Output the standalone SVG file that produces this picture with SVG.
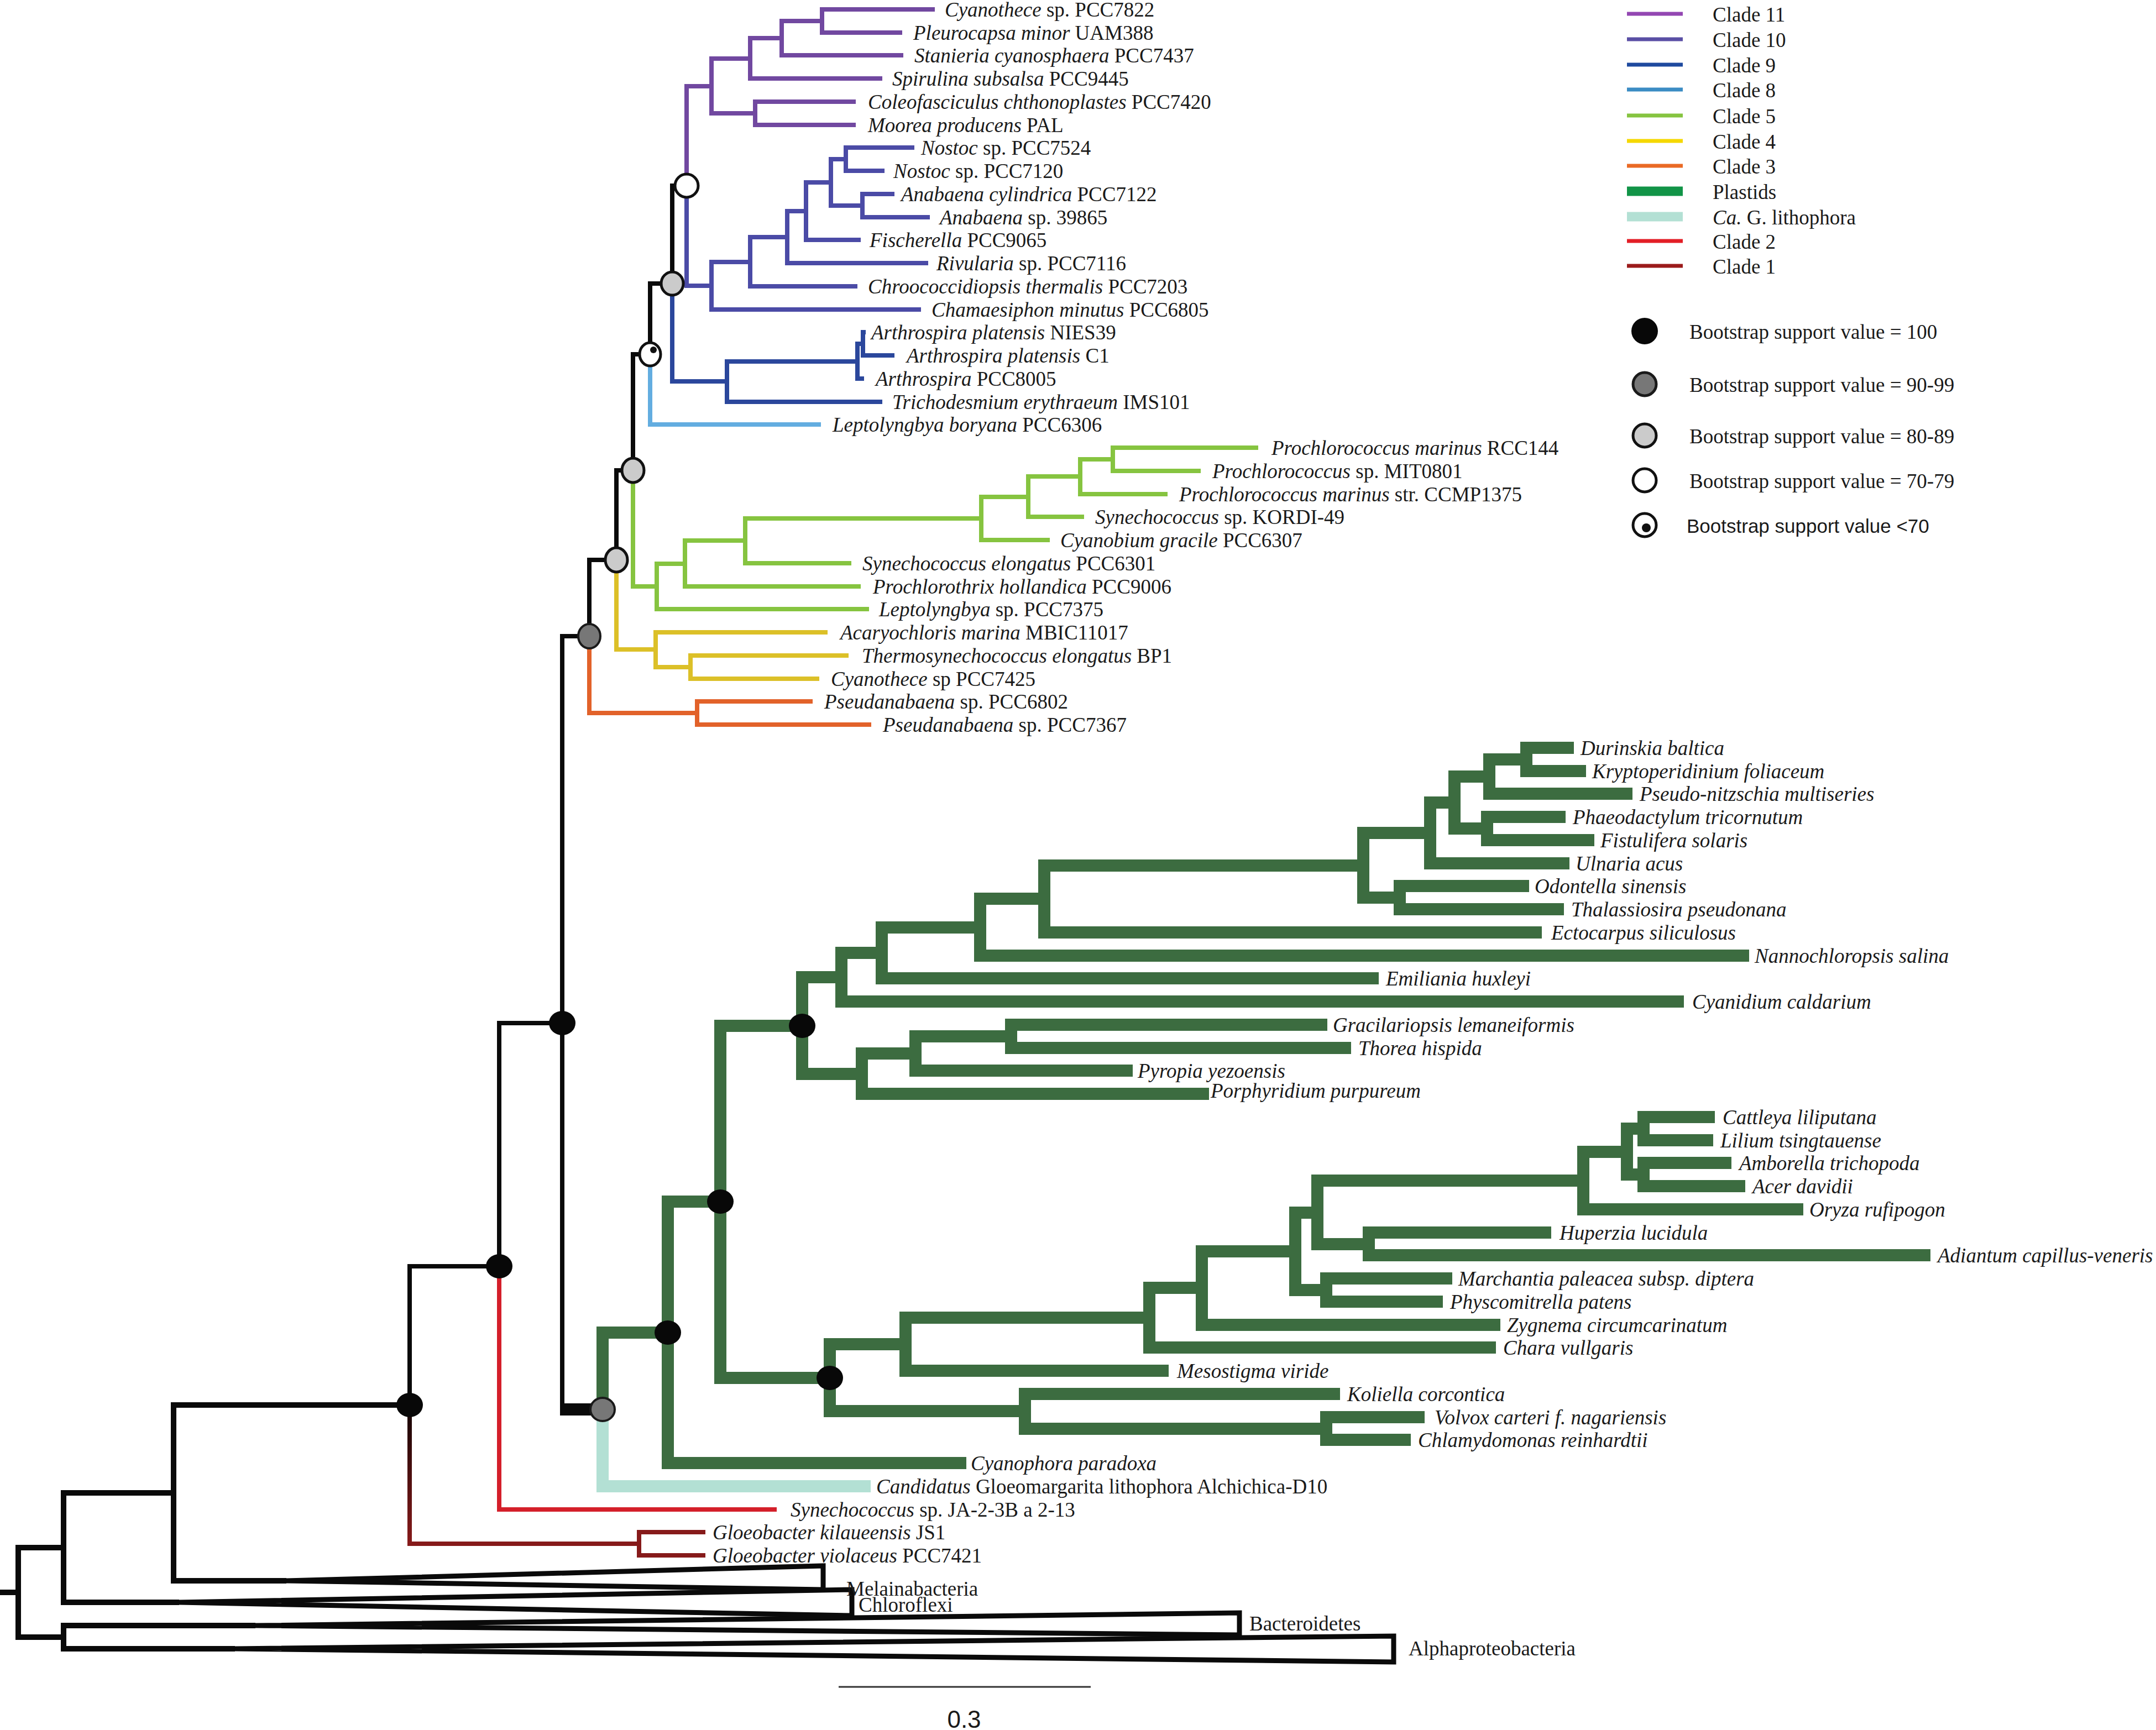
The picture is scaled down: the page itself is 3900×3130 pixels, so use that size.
<svg xmlns="http://www.w3.org/2000/svg" width="3900" height="3130" viewBox="0 0 3900 3130">
<defs>
<style>
text{font-family:"Liberation Serif","Times New Roman",serif;font-size:37px;fill:#1a1a1a}
.i{font-style:italic}
.sans{font-family:"Liberation Sans",Arial,sans-serif}
path{fill:none;stroke-linejoin:miter;stroke-linecap:butt}
.bk{stroke:#0a0a0a;stroke-width:8}
.bk10{stroke:#0a0a0a;stroke-width:10}
.c11{stroke:#7148a0;stroke-width:8}
.c10{stroke:#4b4ba6;stroke-width:8}
.c9{stroke:#2b479c;stroke-width:8}
.c8{stroke:#63ade0;stroke-width:8}
.c5{stroke:#86c440;stroke-width:8}
.c4{stroke:#dcc028;stroke-width:8}
.c3{stroke:#e2622a;stroke-width:8}
.c2{stroke:#d41f2a;stroke-width:8}
.c1{stroke:#861a1a;stroke-width:8}
.pl{stroke:#3c6c40;stroke-width:22}
.ca{stroke:#b3e0d4;stroke-width:22}
.tri{fill:none;stroke:#0a0a0a;stroke-width:9}
.n100{fill:#080808}
.n90{fill:#777777;stroke:#1a1a1a;stroke-width:4}
.n80{fill:#cbcbcb;stroke:#111111;stroke-width:5}
.n70{fill:#ffffff;stroke:#111111;stroke-width:5}
.lgl{stroke-width:7}
</style>
<linearGradient id="gC1" gradientUnits="userSpaceOnUse" x1="0" y1="2560" x2="0" y2="2790">
<stop offset="0" stop-color="#1a0606"/><stop offset="1" stop-color="#861a1a"/>
</linearGradient>
</defs>
<rect width="3900" height="3130" fill="#ffffff"/>

<g id="connectors">
<g id="clade11">
<path class="c11" d="M1242 336V156H1287"/>
<path class="c11" d="M1287 156V106H1357"/>
<path class="c11" d="M1287 156V205H1366"/>
<path class="c11" d="M1357 106V69H1414"/>
<path class="c11" d="M1357 106V142H1596"/>
<path class="c11" d="M1414 69V38H1487"/>
<path class="c11" d="M1414 69V100H1634"/>
<path class="c11" d="M1487 38V17H1691"/>
<path class="c11" d="M1487 38V59H1632"/>
<path class="c11" d="M1366 205V184H1548"/>
<path class="c11" d="M1366 205V226H1548"/>
</g>
<g id="clade10">
<path class="c10" d="M1242 336V517H1287"/>
<path class="c10" d="M1287 517V474H1357"/>
<path class="c10" d="M1287 517V560H1666"/>
<path class="c10" d="M1357 474V429H1424"/>
<path class="c10" d="M1357 474V518H1551"/>
<path class="c10" d="M1424 429V382H1458"/>
<path class="c10" d="M1424 429V476H1679"/>
<path class="c10" d="M1458 382V330H1503"/>
<path class="c10" d="M1458 382V434H1557"/>
<path class="c10" d="M1503 330V288H1530"/>
<path class="c10" d="M1503 330V372H1560"/>
<path class="c10" d="M1530 288V267H1654"/>
<path class="c10" d="M1530 288V309H1600"/>
<path class="c10" d="M1560 372V351H1618"/>
<path class="c10" d="M1560 372V393H1682"/>
</g>
<g id="clade9">
<path class="c9" d="M1216 513V690H1315"/>
<path class="c9" d="M1315 690V654H1551"/>
<path class="c9" d="M1315 690V727H1596"/>
<path class="c9" d="M1551 654V622H1561"/>
<path class="c9" d="M1551 654V685H1563"/>
<path class="c9" d="M1561 622V601H1566"/>
<path class="c9" d="M1561 622V643H1618"/>
</g>
<g id="clade8">
<path class="c8" d="M1176 641V768H1485"/>
</g>
<g id="clade5">
<path class="c5" d="M1145 851V1061H1188"/>
<path class="c5" d="M1188 1061V1020H1239"/>
<path class="c5" d="M1188 1061V1102H1572"/>
<path class="c5" d="M1239 1020V978H1348"/>
<path class="c5" d="M1239 1020V1061H1557"/>
<path class="c5" d="M1348 978V938H1775"/>
<path class="c5" d="M1348 978V1019H1540"/>
<path class="c5" d="M1775 938V899H1860"/>
<path class="c5" d="M1775 938V977H1899"/>
<path class="c5" d="M1860 899V862H1954"/>
<path class="c5" d="M1860 899V935H1961"/>
<path class="c5" d="M1954 862V831H2013"/>
<path class="c5" d="M1954 862V894H2112"/>
<path class="c5" d="M2013 831V810H2276"/>
<path class="c5" d="M2013 831V852H2172"/>
</g>
<g id="clade4">
<path class="c4" d="M1115 1013V1175H1186"/>
<path class="c4" d="M1186 1175V1144H1497"/>
<path class="c4" d="M1186 1175V1207H1249"/>
<path class="c4" d="M1249 1207V1186H1535"/>
<path class="c4" d="M1249 1207V1228H1482"/>
</g>
<g id="clade3">
<path class="c3" d="M1066 1151V1290H1261"/>
<path class="c3" d="M1261 1290V1269H1470"/>
<path class="c3" d="M1261 1290V1311H1576"/>
</g>
<g id="backbone">
<path class="bk" d="M1216 513V336H1242"/>
<path class="bk" d="M1176 641V513H1216"/>
<path class="bk" d="M1145 851V641H1176"/>
<path class="bk" d="M1115 1013V851H1145"/>
<path class="bk" d="M1066 1151V1013H1115"/>
<path class="bk" d="M1017 1851V1151H1066"/>
<path class="bk" d="M1017 1851V2561"/>
<rect x="1013" y="2539" width="77" height="22" fill="#0a0a0a"/>
<path class="bk" d="M903 2291V1851H1017"/>
<path class="bk" d="M741 2542V2291H903"/>
<path class="bk10" d="M314 2701V2542H741"/>
<path class="bk10" d="M115 2800V2701H314"/>
<path class="bk10" d="M33 2881V2800H115"/>
<path class="bk10" d="M33 2881V2962H115"/>
<path class="bk10" d="M0 2881H33"/>
<path class="bk10" d="M314 2701V2860H518"/>
<path class="bk10" d="M115 2800V2899H324"/>
<path class="bk10" d="M115 2962V2941H462"/>
<path class="bk10" d="M115 2962V2983H425"/>
</g>
<g id="clade2">
<path class="c2" d="M903 2291V2731H1405"/>
</g>
<g id="clade1">
<path d="M741 2542V2793H1156" stroke="url(#gC1)" stroke-width="8"/>
<path class="c1" d="M1156 2793V2772H1276"/>
<path class="c1" d="M1156 2793V2814H1276"/>
</g>
<g id="lithophora">
<path class="ca" d="M1090 2550V2689H1575"/>
</g>
<g id="plastids">
<path class="pl" d="M1090 2550V2411H1208"/>
<path class="pl" d="M1208 2411V2174H1303"/>
<path class="pl" d="M1208 2411V2647H1748"/>
<path class="pl" d="M1303 2174V1856H1451"/>
<path class="pl" d="M1303 2174V2493H1501"/>
<path class="pl" d="M1451 1856V1768H1522"/>
<path class="pl" d="M1451 1856V1943H1559"/>
<path class="pl" d="M1522 1768V1724H1595"/>
<path class="pl" d="M1522 1768V1812H3046"/>
<path class="pl" d="M1595 1724V1678H1773"/>
<path class="pl" d="M1595 1724V1770H2494"/>
<path class="pl" d="M1773 1678V1626H1889"/>
<path class="pl" d="M1773 1678V1729H3164"/>
<path class="pl" d="M1889 1626V1566H2466"/>
<path class="pl" d="M1889 1626V1687H2789"/>
<path class="pl" d="M2466 1566V1507H2587"/>
<path class="pl" d="M2466 1566V1624H2532"/>
<path class="pl" d="M2532 1624V1603H2766"/>
<path class="pl" d="M2532 1624V1645H2829"/>
<path class="pl" d="M2587 1507V1452H2631"/>
<path class="pl" d="M2587 1507V1562H2839"/>
<path class="pl" d="M2631 1452V1405H2694"/>
<path class="pl" d="M2631 1452V1499H2690"/>
<path class="pl" d="M2690 1499V1478H2832"/>
<path class="pl" d="M2690 1499V1520H2884"/>
<path class="pl" d="M2694 1405V1374H2761"/>
<path class="pl" d="M2694 1405V1436H2953"/>
<path class="pl" d="M2761 1374V1353H2847"/>
<path class="pl" d="M2761 1374V1395H2869"/>
<path class="pl" d="M1559 1943V1906H1656"/>
<path class="pl" d="M1559 1943V1979H2187"/>
<path class="pl" d="M1656 1906V1875H1829"/>
<path class="pl" d="M1656 1906V1937H2049"/>
<path class="pl" d="M1829 1875V1854H2401"/>
<path class="pl" d="M1829 1875V1896H2444"/>
<path class="pl" d="M1501 2493V2432H1638"/>
<path class="pl" d="M1501 2493V2553H1854"/>
<path class="pl" d="M1638 2432V2384H2079"/>
<path class="pl" d="M1638 2432V2480H2114"/>
<path class="pl" d="M2079 2384V2330H2174"/>
<path class="pl" d="M2079 2384V2438H2706"/>
<path class="pl" d="M2174 2330V2264H2343"/>
<path class="pl" d="M2174 2330V2397H2714"/>
<path class="pl" d="M2343 2264V2194H2383"/>
<path class="pl" d="M2343 2264V2334H2399"/>
<path class="pl" d="M2399 2334V2313H2627"/>
<path class="pl" d="M2399 2334V2355H2610"/>
<path class="pl" d="M2383 2194V2136H2864"/>
<path class="pl" d="M2383 2194V2251H2476"/>
<path class="pl" d="M2476 2251V2230H2806"/>
<path class="pl" d="M2476 2251V2271H3492"/>
<path class="pl" d="M2864 2136V2084H2943"/>
<path class="pl" d="M2864 2136V2188H3262"/>
<path class="pl" d="M2943 2084V2042H2973"/>
<path class="pl" d="M2943 2084V2125H2973"/>
<path class="pl" d="M2973 2042V2021H3102"/>
<path class="pl" d="M2973 2042V2063H3099"/>
<path class="pl" d="M2973 2125V2104H3132"/>
<path class="pl" d="M2973 2125V2146H3157"/>
<path class="pl" d="M1854 2553V2522H2424"/>
<path class="pl" d="M1854 2553V2585H2399"/>
<path class="pl" d="M2399 2585V2564H2577"/>
<path class="pl" d="M2399 2585V2605H2552"/>
</g>
<g id="collapsed">
<polygon class="tri" points="518,2860 1489,2833 1489,2876"/>
<polygon class="tri" points="324,2899 1541,2876 1541,2923"/>
<polygon class="tri" points="462,2941 2242,2918 2242,2958"/>
<polygon class="tri" points="425,2983 2521,2960 2521,3007"/>
</g>
</g>

<g id="support-nodes">
<g id="node-W"><ellipse class="n70" cx="1242" cy="336" rx="21" ry="21"/></g>
<g id="node-G2"><ellipse class="n80" cx="1216" cy="513" rx="20" ry="21"/></g>
<g id="node-CD"><ellipse class="n70" cx="1176" cy="641" rx="19" ry="21"/><circle cx="1182" cy="633" r="6" fill="#111"/></g>
<g id="node-G3"><ellipse class="n80" cx="1145" cy="851" rx="20" ry="22"/></g>
<g id="node-G4"><ellipse class="n80" cx="1115" cy="1013" rx="20" ry="22"/></g>
<g id="node-G5"><ellipse class="n90" cx="1066" cy="1151" rx="20" ry="22"/></g>
<g id="node-F"><ellipse class="n100" cx="1017" cy="1851" rx="24" ry="22"/></g>
<g id="node-E"><ellipse class="n100" cx="903" cy="2291" rx="24" ry="22"/></g>
<g id="node-D"><ellipse class="n100" cx="741" cy="2542" rx="24" ry="22"/></g>
<g id="node-H"><ellipse class="n90" cx="1090" cy="2550" rx="22" ry="21"/></g>
<g id="node-I"><ellipse class="n100" cx="1208" cy="2411" rx="24" ry="22"/></g>
<g id="node-J"><ellipse class="n100" cx="1303" cy="2174" rx="24" ry="22"/></g>
<g id="node-K"><ellipse class="n100" cx="1451" cy="1856" rx="24" ry="22"/></g>
<g id="node-L"><ellipse class="n100" cx="1501" cy="2493" rx="24" ry="22"/></g>
</g>

<g id="taxa">
<g id="t0"><text x="1709" y="30"><tspan class="i">Cyanothece</tspan> sp. PCC7822</text></g>
<g id="t1"><text x="1652" y="72"><tspan class="i">Pleurocapsa minor</tspan> UAM388</text></g>
<g id="t2"><text x="1654" y="113"><tspan class="i">Stanieria cyanosphaera</tspan> PCC7437</text></g>
<g id="t3"><text x="1614" y="155"><tspan class="i">Spirulina subsalsa</tspan> PCC9445</text></g>
<g id="t4"><text x="1570" y="197"><tspan class="i">Coleofasciculus chthonoplastes</tspan> PCC7420</text></g>
<g id="t5"><text x="1570" y="239"><tspan class="i">Moorea producens</tspan> PAL</text></g>
<g id="t6"><text x="1666" y="280"><tspan class="i">Nostoc</tspan> sp. PCC7524</text></g>
<g id="t7"><text x="1616" y="322"><tspan class="i">Nostoc</tspan> sp. PCC7120</text></g>
<g id="t8"><text x="1630" y="364"><tspan class="i">Anabaena cylindrica</tspan> PCC7122</text></g>
<g id="t9"><text x="1700" y="406"><tspan class="i">Anabaena</tspan> sp. 39865</text></g>
<g id="t10"><text x="1573" y="447"><tspan class="i">Fischerella</tspan> PCC9065</text></g>
<g id="t11"><text x="1694" y="489"><tspan class="i">Rivularia</tspan> sp. PCC7116</text></g>
<g id="t12"><text x="1570" y="531"><tspan class="i">Chroococcidiopsis thermalis</tspan> PCC7203</text></g>
<g id="t13"><text x="1685" y="573"><tspan class="i">Chamaesiphon minutus</tspan> PCC6805</text></g>
<g id="t14"><text x="1576" y="614"><tspan class="i">Arthrospira platensis</tspan> NIES39</text></g>
<g id="t15"><text x="1640" y="656"><tspan class="i">Arthrospira platensis</tspan> C1</text></g>
<g id="t16"><text x="1584" y="698"><tspan class="i">Arthrospira</tspan> PCC8005</text></g>
<g id="t17"><text x="1614" y="740"><tspan class="i">Trichodesmium erythraeum</tspan> IMS101</text></g>
<g id="t18"><text x="1506" y="781"><tspan class="i">Leptolyngbya boryana</tspan> PCC6306</text></g>
<g id="t19"><text x="2300" y="823"><tspan class="i">Prochlorococcus marinus</tspan> RCC144</text></g>
<g id="t20"><text x="2193" y="865"><tspan class="i">Prochlorococcus</tspan> sp. MIT0801</text></g>
<g id="t21"><text x="2133" y="907"><tspan class="i">Prochlorococcus marinus</tspan> str. CCMP1375</text></g>
<g id="t22"><text x="1981" y="948"><tspan class="i">Synechococcus</tspan> sp. KORDI-49</text></g>
<g id="t23"><text x="1918" y="990"><tspan class="i">Cyanobium gracile</tspan> PCC6307</text></g>
<g id="t24"><text x="1560" y="1032"><tspan class="i">Synechococcus elongatus</tspan> PCC6301</text></g>
<g id="t25"><text x="1579" y="1074"><tspan class="i">Prochlorothrix hollandica</tspan> PCC9006</text></g>
<g id="t26"><text x="1590" y="1115"><tspan class="i">Leptolyngbya</tspan> sp. PCC7375</text></g>
<g id="t27"><text x="1520" y="1157"><tspan class="i">Acaryochloris marina</tspan> MBIC11017</text></g>
<g id="t28"><text x="1559" y="1199"><tspan class="i">Thermosynechococcus elongatus</tspan> BP1</text></g>
<g id="t29"><text x="1503" y="1241"><tspan class="i">Cyanothece</tspan> sp PCC7425</text></g>
<g id="t30"><text x="1491" y="1282"><tspan class="i">Pseudanabaena</tspan> sp. PCC6802</text></g>
<g id="t31"><text x="1597" y="1324"><tspan class="i">Pseudanabaena</tspan> sp. PCC7367</text></g>
<g id="t32"><text class="i" x="2859" y="1366">Durinskia baltica</text></g>
<g id="t33"><text class="i" x="2880" y="1408">Kryptoperidinium foliaceum</text></g>
<g id="t34"><text class="i" x="2966" y="1449">Pseudo-nitzschia multiseries</text></g>
<g id="t35"><text class="i" x="2845" y="1491">Phaeodactylum tricornutum</text></g>
<g id="t36"><text class="i" x="2895" y="1533">Fistulifera solaris</text></g>
<g id="t37"><text class="i" x="2850" y="1575">Ulnaria acus</text></g>
<g id="t38"><text class="i" x="2776" y="1616">Odontella sinensis</text></g>
<g id="t39"><text class="i" x="2842" y="1658">Thalassiosira pseudonana</text></g>
<g id="t40"><text class="i" x="2806" y="1700">Ectocarpus siliculosus</text></g>
<g id="t41"><text class="i" x="3174" y="1742">Nannochloropsis salina</text></g>
<g id="t42"><text class="i" x="2507" y="1783">Emiliania huxleyi</text></g>
<g id="t43"><text class="i" x="3061" y="1825">Cyanidium caldarium</text></g>
<g id="t44"><text class="i" x="2411" y="1867">Gracilariopsis lemaneiformis</text></g>
<g id="t45"><text class="i" x="2457" y="1909">Thorea hispida</text></g>
<g id="t46"><text class="i" x="2058" y="1950">Pyropia yezoensis</text></g>
<g id="t47"><text class="i" x="2190" y="1986">Porphyridium purpureum</text></g>
<g id="t48"><text class="i" x="3116" y="2034">Cattleya liliputana</text></g>
<g id="t49"><text class="i" x="3112" y="2076">Lilium tsingtauense</text></g>
<g id="t50"><text class="i" x="3146" y="2117">Amborella trichopoda</text></g>
<g id="t51"><text class="i" x="3170" y="2159">Acer davidii</text></g>
<g id="t52"><text class="i" x="3273" y="2201">Oryza rufipogon</text></g>
<g id="t53"><text class="i" x="2821" y="2243">Huperzia lucidula</text></g>
<g id="t54"><text class="i" x="3505" y="2284">Adiantum capillus-veneris</text></g>
<g id="t55"><text class="i" x="2638" y="2326">Marchantia paleacea subsp. diptera</text></g>
<g id="t56"><text class="i" x="2623" y="2368">Physcomitrella patens</text></g>
<g id="t57"><text class="i" x="2726" y="2410">Zygnema circumcarinatum</text></g>
<g id="t58"><text class="i" x="2719" y="2451">Chara vullgaris</text></g>
<g id="t59"><text class="i" x="2129" y="2493">Mesostigma viride</text></g>
<g id="t60"><text class="i" x="2437" y="2535">Koliella corcontica</text></g>
<g id="t61"><text class="i" x="2595" y="2577">Volvox carteri f. nagariensis</text></g>
<g id="t62"><text class="i" x="2565" y="2618">Chlamydomonas reinhardtii</text></g>
<g id="t63"><text class="i" x="1756" y="2660">Cyanophora paradoxa</text></g>
<g id="t64"><text x="1585" y="2702"><tspan class="i">Candidatus</tspan> Gloeomargarita lithophora Alchichica-D10</text></g>
<g id="t65"><text x="1430" y="2744"><tspan class="i">Synechococcus</tspan> sp. JA-2-3B a 2-13</text></g>
<g id="t66"><text x="1289" y="2785"><tspan class="i">Gloeobacter kilaueensis</tspan> JS1</text></g>
<g id="t67"><text x="1289" y="2827"><tspan class="i">Gloeobacter violaceus</tspan> PCC7421</text></g>
<g id="t-mel"><text x="1531" y="2887">Melainabacteria</text></g>
<g id="t-chl"><text x="1553" y="2916">Chloroflexi</text></g>
<g id="t-bac"><text x="2260" y="2950">Bacteroidetes</text></g>
<g id="t-alp"><text x="2548" y="2995">Alphaproteobacteria</text></g>
</g>

<g id="scale-bar">
<path d="M1517 3052H1973" stroke="#333" stroke-width="3"/>
<text class="sans" x="1744" y="3126" text-anchor="middle" style="font-size:44px">0.3</text>
</g>

<g id="legend">
<g id="lg-c11"><path class="lgl" d="M2943 25H3044" stroke="#9347b2"/><text x="3098" y="39">Clade 11</text></g>
<g id="lg-c10"><path class="lgl" d="M2943 71H3044" stroke="#5a4fa5"/><text x="3098" y="85">Clade 10</text></g>
<g id="lg-c9"><path class="lgl" d="M2943 117H3044" stroke="#1f4a9f"/><text x="3098" y="131">Clade 9</text></g>
<g id="lg-c8"><path class="lgl" d="M2943 162H3044" stroke="#3b8cc4"/><text x="3098" y="176">Clade 8</text></g>
<g id="lg-c5"><path class="lgl" d="M2943 209H3044" stroke="#86c440"/><text x="3098" y="223">Clade 5</text></g>
<g id="lg-c4"><path class="lgl" d="M2943 255H3044" stroke="#f5d800"/><text x="3098" y="269">Clade 4</text></g>
<g id="lg-c3"><path class="lgl" d="M2943 300H3044" stroke="#ea6a25"/><text x="3098" y="314">Clade 3</text></g>
<g id="lg-pl"><path d="M2943 346H3044" stroke="#119447" stroke-width="17"/><text x="3098" y="360">Plastids</text></g>
<g id="lg-ca"><path d="M2943 392H3044" stroke="#b3e0d4" stroke-width="17"/><text x="3098" y="406"><tspan class="i">Ca.</tspan> G. lithophora</text></g>
<g id="lg-c2"><path class="lgl" d="M2943 436H3044" stroke="#e31e26"/><text x="3098" y="450">Clade 2</text></g>
<g id="lg-c1"><path class="lgl" d="M2943 481H3044" stroke="#9b1b1b"/><text x="3098" y="495">Clade 1</text></g>
<g id="lg-b100"><circle class="n100" cx="2975" cy="599" r="24"/><text x="3056" y="613">Bootstrap support value = 100</text></g>
<g id="lg-b90"><circle class="n90" cx="2975" cy="695" r="21" style="stroke-width:5"/><text x="3056" y="709">Bootstrap support value = 90-99</text></g>
<g id="lg-b80"><circle class="n80" cx="2975" cy="788" r="21"/><text x="3056" y="802">Bootstrap support value = 80-89</text></g>
<g id="lg-b70"><circle class="n70" cx="2975" cy="869" r="21"/><text x="3056" y="883">Bootstrap support value = 70-79</text></g>
<g id="lg-b60"><circle class="n70" cx="2975" cy="950" r="21"/><circle cx="2978" cy="955" r="8" fill="#111"/><text class="sans" x="3051" y="964" style="font-size:35px">Bootstrap support value &lt;70</text></g>
</g>
</svg>
